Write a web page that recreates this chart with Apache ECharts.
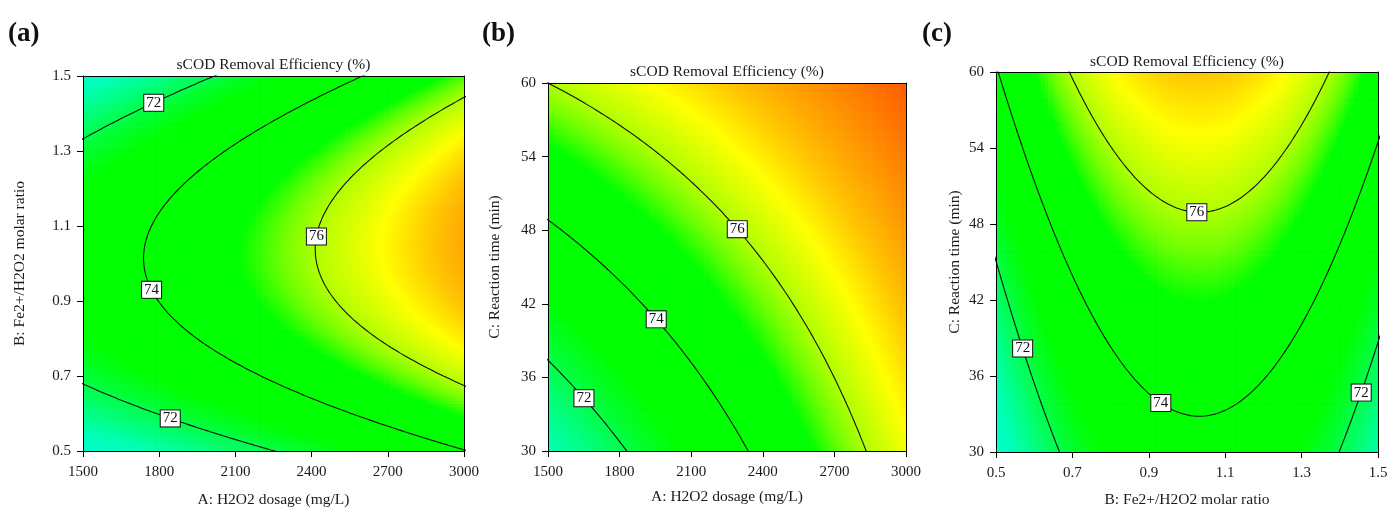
<!DOCTYPE html>
<html><head><meta charset="utf-8">
<script src="https://cdn.jsdelivr.net/npm/echarts@6/dist/echarts.min.js"></script>
<style>html,body{margin:0;padding:0;background:#fff}#chart{width:1400px;height:513px}</style>
</head><body><div id="chart"></div>
<script>
// ---------------- DATA ----------------
const panelLetters = ['(a)', '(b)', '(c)'];
const chartTitle = 'sCOD Removal Efficiency (%)';
const factorNames = ['A: H2O2 dosage (mg/L)', 'B: Fe2+/H2O2 molar ratio', 'C: Reaction time (min)'];
const factorLow = [1500, 0.5, 30];
const factorHigh = [3000, 1.5, 60];
const factorTickStep = [300, 0.2, 6];
// Quadratic response-surface model in coded units (-1..1), estimated from the contours in the figure
const modelIntercept = 75.49;
const modelLinear = [2.232, 0.40, 1.888];        // A, B, C
const modelInteraction = [0.33, -0.744, 0.0];    // AB, AC, BC
const modelQuadratic = [0.065, -3.1, 0.045];     // A², B², C²
const contourLevels = [72, 74, 76];
// contour label positions [level, x, y] (real units)
const contourLabelsA = [[72, 1764, 1.445], [72, 1854, 0.602], [74, 1780, 0.933], [76, 2421, 1.072]];
const contourLabelsB = [[72, 1676, 34.75], [74, 1969, 41.0], [76, 2309, 48.4]];
const contourLabelsC = [[72, 0.58, 38.2], [72, 1.448, 34.8], [74, 0.942, 34.35], [76, 1.026, 49.6]];

// ---------------- helpers ----------------
const FONT = 'Liberation Serif';
function model(x) {
  let y = modelIntercept;
  for (let i = 0; i < 3; i++) y += modelLinear[i] * x[i] + modelQuadratic[i] * x[i] * x[i];
  y += modelInteraction[0] * x[0] * x[1] + modelInteraction[1] * x[0] * x[2] + modelInteraction[2] * x[1] * x[2];
  return y;
}
function toReal(f, t) { return (factorLow[f] + factorHigh[f]) / 2 + t * (factorHigh[f] - factorLow[f]) / 2; }
function toCoded(f, v) { return (v - (factorLow[f] + factorHigh[f]) / 2) / ((factorHigh[f] - factorLow[f]) / 2); }

const panels = [
  { xf: 0, yf: 1, solve: 'x', grid: { left: 83, top: 76, width: 381, height: 381 }, xNameGap: 41, yNameGap: 55, titleY: 57, letterX: 8, labels: contourLabelsA },
  { xf: 0, yf: 2, solve: 'x', grid: { left: 548, top: 83, width: 358, height: 368 }, xNameGap: 38, yNameGap: 45, titleY: 64, letterX: 482, labels: contourLabelsB },
  { xf: 1, yf: 2, solve: 'y', grid: { left: 996, top: 72, width: 382, height: 386 }, xNameGap: 40, yNameGap: 33, titleY: 54, letterX: 922, labels: contourLabelsC }
];
function panelValue(p, u, v) { const x = [0, 0, 0]; x[p.xf] = u; x[p.yf] = v; return model(x); }

const colorStops = [
  [69.5, [0, 255, 225]], [70.2, [0, 255, 205]], [70.8, [0, 255, 180]], [71.5, [0, 255, 120]],
  [72.3, [0, 255, 45]], [72.9, [0, 255, 0]], [75.1, [0, 255, 0]], [75.6, [110, 255, 0]],
  [76.0, [175, 255, 0]], [76.8, [255, 255, 0]], [77.4, [255, 200, 0]], [77.8, [255, 170, 0]],
  [79.0, [255, 90, 0]], [80.0, [255, 50, 0]]
];
function colorFor(v) {
  if (v <= colorStops[0][0]) return 'rgb(' + colorStops[0][1].join(',') + ')';
  for (let i = 1; i < colorStops.length; i++) {
    if (v <= colorStops[i][0]) {
      const [v0, c0] = colorStops[i - 1], [v1, c1] = colorStops[i];
      const t = (v - v0) / (v1 - v0);
      return 'rgb(' + c0.map((c, k) => Math.round(c + (c1[k] - c) * t)).join(',') + ')';
    }
  }
  return 'rgb(' + colorStops[colorStops.length - 1][1].join(',') + ')';
}
function solveRoots(A2, A1, A0) {
  if (Math.abs(A2) < 1e-12) return Math.abs(A1) < 1e-12 ? [] : [-A0 / A1];
  const d = A1 * A1 - 4 * A2 * A0;
  if (d < 0) return [];
  const sq = Math.sqrt(d);
  const q = -0.5 * (A1 + (A1 >= 0 ? sq : -sq));
  if (q === 0) return [0];
  return [q / A2, A0 / q].sort((m, n) => m - n);
}
function contourSegments(p, level) {
  const segs = []; const open = [null, null]; const N = 700;
  for (let k = 0; k <= N; k++) {
    const t = -1.2 + 2.4 * k / N;
    const g = s => p.solve === 'x' ? panelValue(p, s, t) : panelValue(p, t, s);
    const g0 = g(0), gp = g(1), gm = g(-1);
    const roots = solveRoots((gp + gm) / 2 - g0, (gp - gm) / 2, g0 - level);
    for (let i = 0; i < 2; i++) {
      const r = roots[i];
      if (r !== undefined && r >= -1.3 && r <= 1.3) {
        if (!open[i]) { open[i] = []; segs.push(open[i]); }
        open[i].push(p.solve === 'x' ? [r, t] : [t, r]);
      } else open[i] = null;
    }
  }
  return segs;
}

// ---------------- build option ----------------
const grids = [], xAxes = [], yAxes = [], series = [], titles = [];
const axisText = { fontFamily: FONT, fontSize: 15, color: '#1a1a1a' };
const CELLS = 110;
panels.forEach((p, pi) => {
  grids.push(Object.assign({ containLabel: false, show: false }, p.grid));
  const fmt = f => (v => factorTickStep[f] < 1 ? v.toFixed(1) : String(Math.round(v)));
  const base = f => ({ type: 'value', min: factorLow[f], max: factorHigh[f], interval: factorTickStep[f], gridIndex: pi, z: 10,
    splitLine: { show: false }, axisLine: { show: true, onZero: false, lineStyle: { color: '#000', width: 1 } } });
  xAxes.push(Object.assign(base(p.xf), { position: 'bottom', name: factorNames[p.xf], nameLocation: 'middle', nameGap: p.xNameGap,
    nameTextStyle: { fontFamily: FONT, fontSize: 15.5, color: '#1a1a1a' },
    axisTick: { show: true, length: 6, lineStyle: { color: '#000' } },
    axisLabel: Object.assign({ margin: 14, formatter: fmt(p.xf), showMinLabel: true, showMaxLabel: true }, axisText) }));
  xAxes.push(Object.assign(base(p.xf), { position: 'top', axisTick: { show: false }, axisLabel: { show: false } }));
  yAxes.push(Object.assign(base(p.yf), { position: 'left', name: factorNames[p.yf], nameLocation: 'middle', nameGap: p.yNameGap,
    nameTextStyle: { fontFamily: FONT, fontSize: 15.5, color: '#1a1a1a' },
    axisTick: { show: true, length: 6, lineStyle: { color: '#000' } },
    axisLabel: Object.assign({ margin: 12, formatter: fmt(p.yf), showMinLabel: true, showMaxLabel: true }, axisText) }));
  yAxes.push(Object.assign(base(p.yf), { position: 'right', axisTick: { show: false }, axisLabel: { show: false } }));
  const xi = pi * 2, yi = pi * 2;

  // surface cells
  const cells = [];
  for (let i = 0; i < CELLS; i++) for (let j = 0; j < CELLS; j++) {
    const u = -1 + (i + 0.5) * 2 / CELLS, v = -1 + (j + 0.5) * 2 / CELLS;
    cells.push([toReal(p.xf, u), toReal(p.yf, v), panelValue(p, u, v)]);
  }
  const hx = (factorHigh[p.xf] - factorLow[p.xf]) / CELLS / 2, hy = (factorHigh[p.yf] - factorLow[p.yf]) / CELLS / 2;
  series.push({ type: 'custom', xAxisIndex: xi, yAxisIndex: yi, data: cells, silent: true, animation: false, clip: true, z: 1,
    progressive: 0, progressiveThreshold: 100000000,
    renderItem: (params, api) => {
      const x = api.value(0), y = api.value(1);
      const p0 = api.coord([x - hx, y + hy]), p1 = api.coord([x + hx, y - hy]);
      return { type: 'rect', shape: { x: p0[0], y: p0[1], width: p1[0] - p0[0] + 0.6, height: p1[1] - p0[1] + 0.6 },
        style: { fill: colorFor(api.value(2)) } };
    } });

  // contour lines
  const segsByLevel = {};
  contourLevels.forEach(L => {
    segsByLevel[L] = contourSegments(p, L);
    segsByLevel[L].forEach(seg => {
      series.push({ type: 'line', xAxisIndex: xi, yAxisIndex: yi, showSymbol: false, silent: true, animation: false, clip: true, z: 5,
        lineStyle: { color: '#111', width: 1.1 },
        data: seg.map(([u, v]) => [toReal(p.xf, u), toReal(p.yf, v)]) });
    });
  });
  // contour labels snapped onto the computed contour
  const labelData = p.labels.map(([L, xr, yr]) => {
    const u0 = toCoded(p.xf, xr), v0 = toCoded(p.yf, yr);
    let best = [u0, v0], bd = Infinity;
    (segsByLevel[L] || []).forEach(seg => seg.forEach(([u, v]) => {
      if (Math.abs(u) > 1 || Math.abs(v) > 1) return;
      const d = (u - u0) ** 2 + (v - v0) ** 2;
      if (d < bd) { bd = d; best = [u, v]; }
    }));
    return [toReal(p.xf, best[0]), toReal(p.yf, best[1]), L];
  });
  series.push({ type: 'scatter', xAxisIndex: xi, yAxisIndex: yi, symbolSize: 1, itemStyle: { color: 'transparent', opacity: 1 },
    silent: true, animation: false, z: 8, data: labelData,
    label: { show: true, position: 'inside', formatter: q => String(q.value[2]), fontFamily: FONT, fontSize: 15, color: '#111',
      backgroundColor: '#ffffff', borderColor: '#111', borderWidth: 1, padding: [1, 2, 0, 2], lineHeight: 15 } });

  titles.push({ text: chartTitle, left: p.grid.left + p.grid.width / 2, top: p.titleY, textAlign: 'center', padding: 0,
    textStyle: { fontFamily: FONT, fontSize: 15.5, fontWeight: 'normal', color: '#1a1a1a' } });
  titles.push({ text: panelLetters[pi], left: p.letterX, top: 21, padding: 0,
    textStyle: { fontFamily: FONT, fontSize: 27, fontWeight: 'bold', color: '#111' } });
});

const chart = echarts.init(document.getElementById('chart'), null, { renderer: 'canvas' });
chart.setOption({ backgroundColor: '#fff', animation: false, title: titles, grid: grids, xAxis: xAxes, yAxis: yAxes, series: series });
</script></body></html>
